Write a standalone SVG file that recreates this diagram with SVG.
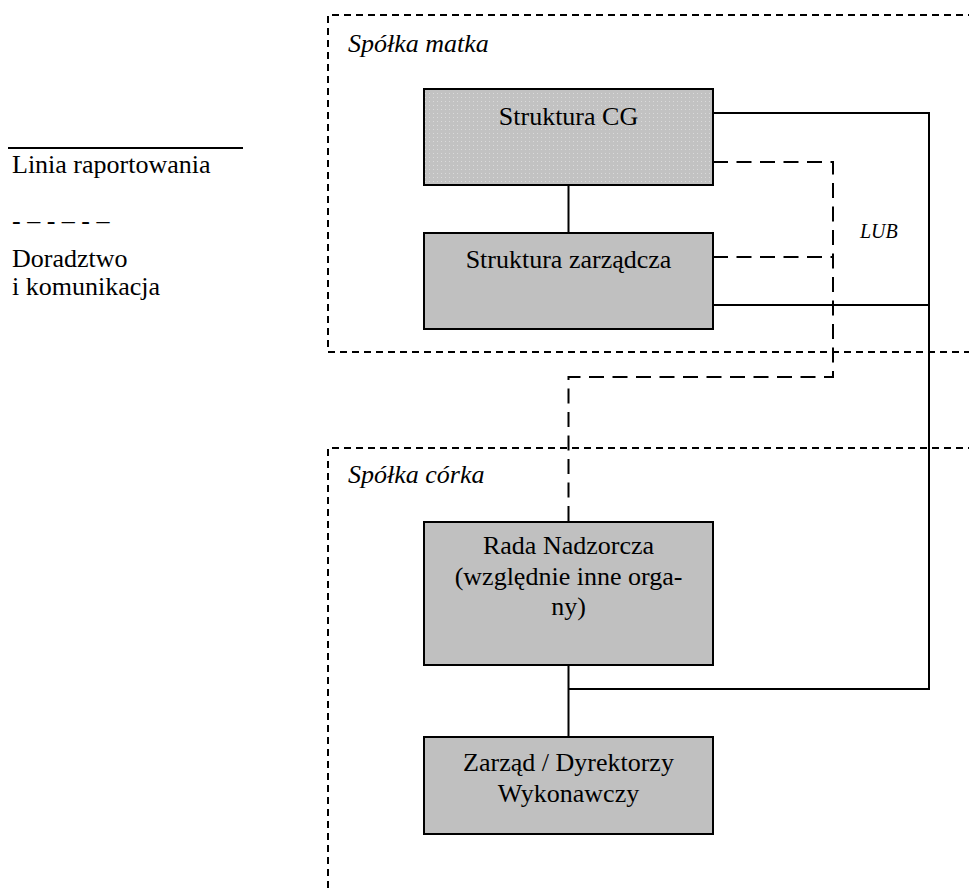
<svg xmlns="http://www.w3.org/2000/svg" width="969" height="888" viewBox="0 0 969 888">
  <style>
    text { font-family: "Liberation Serif", "Times New Roman", serif; font-size: 26px; fill: #000; }
    .c { text-anchor: middle; }
    .it { font-style: italic; }
    .box { fill: #c0c0c0; stroke: #000; stroke-width: 2; }
    .dot { fill: url(#dots); stroke: #000; stroke-width: 2; }
    .frame { fill: none; stroke: #000; stroke-width: 2; stroke-dasharray: 7 5; }
    .solid { fill: none; stroke: #000; stroke-width: 2; }
    .dash { fill: none; stroke: #000; stroke-width: 2; stroke-dasharray: 15 8.5; }
  </style>
  <defs>
    <pattern id="dots" width="4" height="4" patternUnits="userSpaceOnUse">
      <rect width="4" height="4" fill="#c2c2c2"/>
      <rect x="1" y="1" width="1" height="1" fill="#dadada"/>
    </pattern>
  </defs>
  <rect width="969" height="888" fill="#fff"/>

  <!-- legend -->
  <g id="legend">
    <line x1="8" y1="148" x2="243" y2="148" stroke="#000" stroke-width="2"/>
    <text x="12" y="173">Linia raportowania</text>
    <text x="12" y="229">- – - – - –</text>
    <text x="12" y="267">Doradztwo</text>
    <text x="12" y="295">i komunikacja</text>
  </g>

  <!-- company frames -->
  <g id="spolka-matka">
    <path class="frame" d="M975,15 H328 V352 H975"/>
    <text class="it" x="348" y="52">Spółka matka</text>
  </g>
  <g id="spolka-corka">
    <path class="frame" d="M975,448 H328 V895"/>
    <text class="it" x="348" y="483">Spółka córka</text>
  </g>

  <!-- connectors -->
  <g id="connectors">
    <line class="solid" x1="568.5" y1="185" x2="568.5" y2="233"/>
    <path class="solid" d="M713,113 H929 V689 H568.5"/>
    <line class="solid" x1="713" y1="305" x2="929" y2="305"/>
    <line class="solid" x1="568.5" y1="665" x2="568.5" y2="737"/>
    <path class="dash" d="M713,162 H833 V377 H568.5 V522"/>
    <line class="dash" x1="713" y1="257" x2="833" y2="257"/>
    <text class="it" x="860" y="238" style="font-size:20px">LUB</text>
  </g>

  <!-- nodes -->
  <g id="struktura-cg">
    <rect class="dot" x="424" y="89" width="289" height="96"/>
    <text class="c" x="568.5" y="125">Struktura CG</text>
  </g>
  <g id="struktura-zarzadcza">
    <rect class="box" x="424" y="233" width="289" height="96"/>
    <text class="c" x="568.5" y="268">Struktura zarządcza</text>
  </g>
  <g id="rada-nadzorcza">
    <rect class="box" x="424" y="522" width="289" height="143"/>
    <text class="c" x="568.5" y="554">Rada Nadzorcza</text>
    <text class="c" x="568.5" y="585">(względnie inne orga-</text>
    <text class="c" x="568.5" y="615">ny)</text>
  </g>
  <g id="zarzad">
    <rect class="box" x="424" y="737" width="289" height="97"/>
    <text class="c" x="568.5" y="771">Zarząd / Dyrektorzy</text>
    <text class="c" x="568.5" y="802">Wykonawczy</text>
  </g>
</svg>
